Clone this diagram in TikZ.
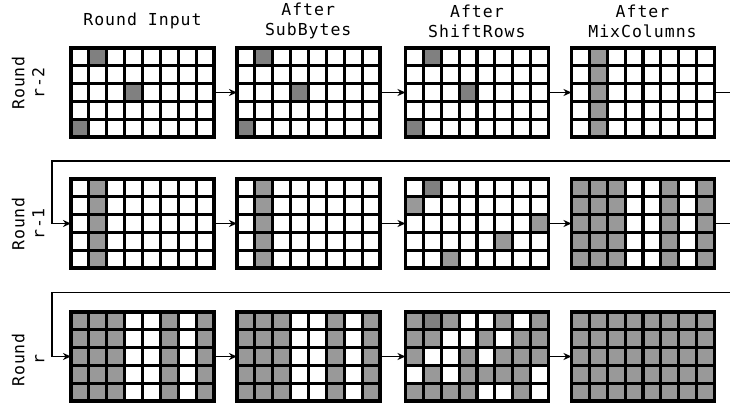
\documentclass[tikz,border=0pt]{standalone}
\usepackage{fontspec}
\setmonofont[LetterSpace=6]{DejaVu Sans Mono}
\usetikzlibrary{arrows.meta}
\definecolor{cW}{gray}{1}
\definecolor{cL}{HTML}{999999}
\definecolor{cD}{HTML}{808080}
\tikzset{
  lbl/.style={font=\ttfamily\fontsize{16.5}{20}\selectfont, align=center, inner sep=0pt},
  frame/.style={minimum width=143pt, minimum height=89pt, inner sep=0pt, outer sep=0pt, anchor=north west},
  gline/.style={line width=3.2pt, line cap=rect, black},
  conn/.style={line width=1.8pt, black},
  arr/.style={conn, -{Stealth[length=8pt,width=7pt,inset=2.5pt]}}
}
\newcommand{\aesgrid}[3]{%
  \node[frame] (#1) at (#2) {};
  \foreach \rl [count=\r from 0] in #3 {
    \foreach \ch [count=\c from 0] in \rl {
      \fill[c\ch] ([shift={(\c*17.875,\r*17.8)}]#1.north west) rectangle ++(17.875,17.8);
    }
  }
  \foreach \i in {0,...,8} \draw[gline] ([shift={(\i*17.875,0)}]#1.north west) -- ++(0,89);
  \foreach \j in {0,...,5} \draw[gline] ([shift={(0,\j*17.8)}]#1.north west) -- ++(143,0);
}
\def\patA{{W,D,W,W,W,W,W,W},{W,W,W,W,W,W,W,W},{W,W,W,D,W,W,W,W},{W,W,W,W,W,W,W,W},{D,W,W,W,W,W,W,W}}
\def\patB{{W,L,W,W,W,W,W,W},{W,L,W,W,W,W,W,W},{W,L,W,W,W,W,W,W},{W,L,W,W,W,W,W,W},{W,L,W,W,W,W,W,W}}
\def\patC{{W,D,W,W,W,W,W,W},{L,W,W,W,W,W,W,W},{W,W,W,W,W,W,W,L},{W,W,W,W,W,L,W,W},{W,W,L,W,W,W,W,W}}
\def\patD{{L,L,L,W,W,L,W,L},{L,L,L,W,W,L,W,L},{L,L,L,W,W,L,W,L},{L,L,L,W,W,L,W,L},{L,L,L,W,W,L,W,L}}
\def\patE{{L,D,L,W,W,L,W,L},{L,L,W,W,L,W,L,L},{L,W,W,L,W,L,L,L},{W,L,W,L,L,L,L,W},{L,L,L,L,W,W,L,W}}
\def\patF{{L,L,L,L,L,L,L,L},{L,L,L,L,L,L,L,L},{L,L,L,L,L,L,L,L},{L,L,L,L,L,L,L,L},{L,L,L,L,L,L,L,L}}
\begin{document}
\begin{tikzpicture}[x=1pt,y=-1pt]
\useasboundingbox (0,0) rectangle (730,404);
% column titles
\node[lbl] (t1) at (142.5,21) {Round Input};
\node[lbl] (t2) at (308.2,21) {After\\SubBytes};
\node[lbl] (t3) at (476.9,21) {After\\ShiftRows};
\node[lbl] (t4) at (642.5,21) {After\\MixColumns};
% row titles
\node[lbl, rotate=90] (r1) at (28,83) {Round\\r-2};
\node[lbl, rotate=90] (r2) at (28,224) {Round\\r-1};
\node[lbl, rotate=90] (r3) at (28,360) {Round\\r};
% grids
\aesgrid{g11}{71,48}{\patA}
\aesgrid{g12}{237,48}{\patA}
\aesgrid{g13}{405.5,48}{\patA}
\aesgrid{g14}{571.5,48}{\patB}
\aesgrid{g21}{71,179}{\patB}
\aesgrid{g22}{237,179}{\patB}
\aesgrid{g23}{405.5,179}{\patC}
\aesgrid{g24}{571.5,179}{\patD}
\aesgrid{g31}{71,312}{\patD}
\aesgrid{g32}{237,312}{\patD}
\aesgrid{g33}{405.5,312}{\patE}
\aesgrid{g34}{571.5,312}{\patF}
% connectors
\foreach \rr in {1,2,3} {
  \draw[arr] (g\rr1.east) -- (g\rr2.west);
  \draw[arr] (g\rr2.east) -- (g\rr3.west);
  \draw[arr] (g\rr3.east) -- (g\rr4.west);
}
\coordinate (e1) at (730,92.5);
\coordinate (e2) at (730,223.5);
\draw[conn] (g14.east) -- (e1);
\draw[conn] (g24.east) -- (e2);
\coordinate (f2) at (730,161);
\coordinate (b2) at (52,223.5);
\draw[arr] (f2) -| (b2) -- (g21.west);
\coordinate (f3) at (730,292.5);
\coordinate (b3) at (52,356.5);
\draw[arr] (f3) -| (b3) -- (g31.west);
\end{tikzpicture}
\end{document}
